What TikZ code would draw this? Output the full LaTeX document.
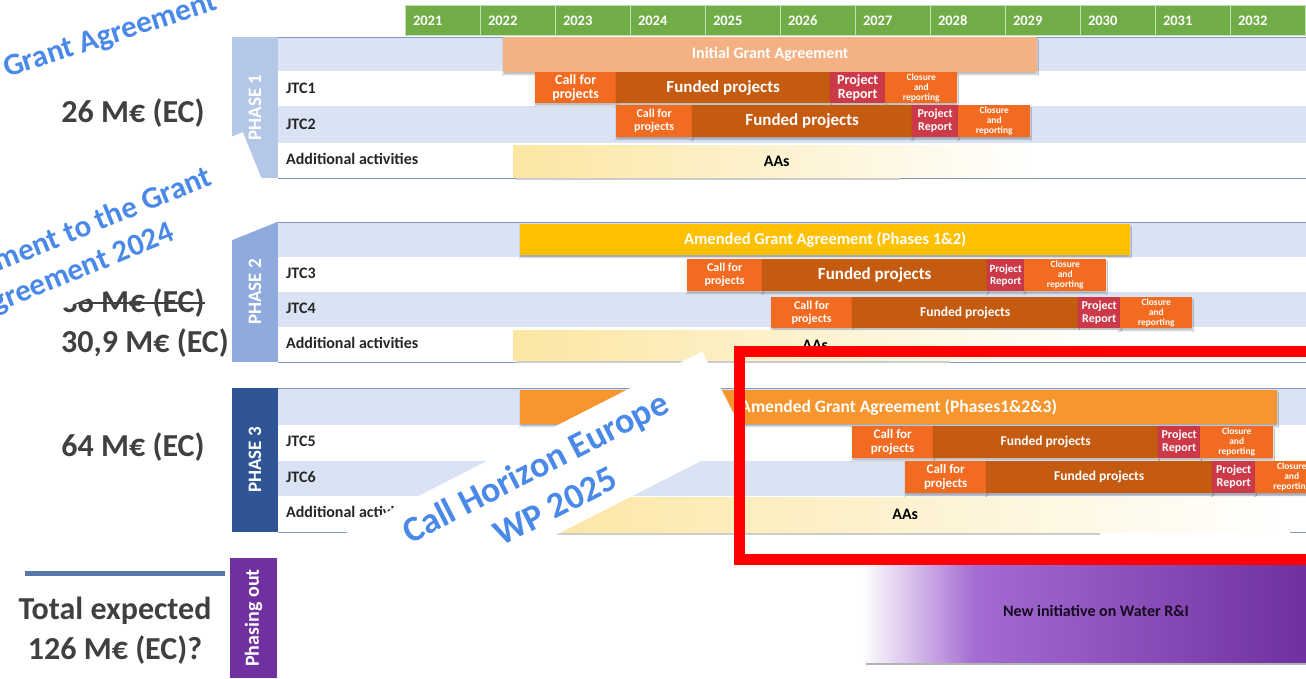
\documentclass[tikz,border=0pt]{standalone}
\usepackage{fontspec}
\setmainfont{Carlito}
\usepackage{xcolor}
\usepackage{tikz}
\usetikzlibrary{positioning,shadows.blur}
\definecolor{yeargreen}{HTML}{70AD47}
\definecolor{rowblue}{HTML}{DAE3F3}
\definecolor{ruleblue}{HTML}{8497C4}
\definecolor{tabone}{HTML}{B4C7E7}
\definecolor{tabtwo}{HTML}{8FAADC}
\definecolor{tabthree}{HTML}{2F5597}
\definecolor{tabout}{HTML}{7030A0}
\definecolor{salmon}{HTML}{F4B183}
\definecolor{callorange}{HTML}{F26B21}
\definecolor{fundbrown}{HTML}{C55A11}
\definecolor{reportred}{HTML}{CC3A4A}
\definecolor{goldbar}{HTML}{FFC000}
\definecolor{amendorange}{HTML}{F7962F}
\definecolor{aalight}{HTML}{FBE6A2}
\definecolor{aamid}{HTML}{EFE2C2}
\definecolor{purplemid}{HTML}{A46BD2}
\definecolor{purpledark}{HTML}{7030A0}
\definecolor{labelgray}{HTML}{404040}
\definecolor{calloutblue}{HTML}{4A89E8}
\newcommand{\sizedbold}[2]{\bfseries\fontsize{#1}{#2}\selectfont}

\begin{document}
\begin{tikzpicture}[
    x=1pt, y=-1pt,
    nosep/.style={inner sep=0},
    yearcell/.style={nosep, anchor=north west, fill=yeargreen, draw=yeargreen!40!white, line width=1pt,
        text width=60pt, inner xsep=7.5pt, minimum height=30pt, align=left, text=white, font=\sizedbold{14.5}{16}},
    tab/.style={nosep, rotate=90, minimum height=46pt, text=white, font=\sizedbold{19}{22}},
    rowlabel/.style={nosep, anchor=west, text=black!85, font=\sizedbold{16}{19}},
    plainbar/.style={nosep, anchor=north west, align=center},
    bar/.style={plainbar, text=white, font=\sizedbold{13}{14},
        blur shadow={shadow xshift=0pt, shadow yshift=-2.5pt, shadow blur radius=1.2pt, shadow blur steps=3, shadow opacity=25}},
    callbar/.style={bar, fill=callorange},
    fundbar/.style={bar, fill=fundbrown},
    reportbar/.style={bar, fill=reportred},
    closebar/.style={bar, fill=callorange, font=\sizedbold{9.5}{10}},
    aabar/.style={plainbar, text=black, left color=aalight, middle color=aamid, right color=white, font=\sizedbold{16}{18}},
    money/.style={nosep, text=labelgray, font=\sizedbold{32}{38}},
    callout/.style={nosep, fill=white, text=calloutblue, align=center}
]
\path[use as bounding box] (0,0) rectangle (1306,678);
\clip (0,0) rectangle (1306,678);
\path[fill=white] (0,0) rectangle (1306,678);

\foreach \yr [count=\i from 0] in {2021,...,2032}
    \node[yearcell] (y\yr) at ({405+75*\i},5) {\yr};

% phase 1
\path[fill=rowblue] (278,37) rectangle (1306,71);
\path[fill=rowblue] (278,106) rectangle (1306,143);
\path[draw=ruleblue, semithick] (278,37) -- (1306,37);
\path[draw=ruleblue, thick] (278,178) -- (1306,178);
\node[tab, fill=tabone, minimum width=141pt] (phaseone) at (255,107.5) {PHASE 1};
\node[rowlabel] (jtcone) at (286,88) {JTC1};
\node[rowlabel] (jtctwo) at (286,124) {JTC2};
\node[rowlabel] (aaone) at (286,159) {Additional activities};

\node[bar, fill=salmon, minimum width=534pt, minimum height=35pt, font=\sizedbold{16}{18}] (initialga) at (503,37) {Initial Grant Agreement};
\node[callbar, minimum width=81pt, minimum height=31pt, font=\sizedbold{14}{14}] (jtconecall) at (535,72) {Call for\\projects};
\node[fundbar, minimum width=214pt, minimum height=31pt, font=\sizedbold{17}{18}] (jtconefund) at (616,72) {Funded projects};
\node[reportbar, minimum width=55pt, minimum height=31pt, font=\sizedbold{14}{14}] (jtconereport) at (830,72) {Project\\Report};
\node[closebar, minimum width=72pt, minimum height=31pt] (jtconeclose) at (885,72) {Closure\\and\\reporting};
\node[callbar, minimum width=76pt, minimum height=32pt, font=\sizedbold{12}{13}] (jtctwocall) at (616,105) {Call for\\projects};
\node[fundbar, minimum width=220pt, minimum height=32pt, font=\sizedbold{17}{18}] (jtctwofund) at (692,105) {Funded projects};
\node[reportbar, minimum width=46pt, minimum height=32pt, font=\sizedbold{12}{13}] (jtctworeport) at (912,105) {Project\\Report};
\node[closebar, minimum width=72pt, minimum height=32pt] (jtctwoclose) at (958,105) {Closure\\and\\reporting};
\path[fill=black!20] (516,177) rectangle (900,179.5);
\node[aabar, minimum width=527pt, minimum height=32pt] (aaonebar) at (513,145) {AAs};

% phase 2
\path[fill=rowblue] (278,222) rectangle (1306,257);
\path[fill=rowblue] (278,292) rectangle (1306,327);
\path[draw=ruleblue, semithick] (278,222) -- (1306,222);
\path[draw=ruleblue, thick] (278,362) -- (1306,362);
\node[tab, fill=tabtwo, minimum width=140pt] (phasetwo) at (255,292) {PHASE 2};
\node[rowlabel] (jtcthree) at (286,273) {JTC3};
\node[rowlabel] (jtcfour) at (286,308) {JTC4};
\node[rowlabel] (aatwo) at (286,343) {Additional activities};

\node[bar, fill=goldbar, minimum width=610pt, minimum height=31pt, font=\sizedbold{16.5}{18}] (amendga) at (520,224) {Amended Grant Agreement (Phases 1\&2)};
\node[callbar, minimum width=75pt, minimum height=32pt, font=\sizedbold{12}{13}] (jtcthreecall) at (687,259) {Call for\\projects};
\node[fundbar, minimum width=225pt, minimum height=32pt, font=\sizedbold{17}{18}] (jtcthreefund) at (762,259) {Funded projects};
\node[reportbar, minimum width=37pt, minimum height=32pt, font=\sizedbold{11}{12}] (jtcthreereport) at (987,259) {Project\\Report};
\node[closebar, minimum width=82pt, minimum height=32pt] (jtcthreeclose) at (1024,259) {Closure\\and\\reporting};
\node[callbar, minimum width=81pt, minimum height=31pt, font=\sizedbold{12}{13}] (jtcfourcall) at (771,297) {Call for\\projects};
\node[fundbar, minimum width=226pt, minimum height=31pt, font=\sizedbold{13.5}{15}] (jtcfourfund) at (852,297) {Funded projects};
\node[reportbar, minimum width=42pt, minimum height=31pt, font=\sizedbold{12}{13}] (jtcfourreport) at (1078,297) {Project\\Report};
\node[closebar, minimum width=72pt, minimum height=31pt] (jtcfourclose) at (1120,297) {Closure\\and\\reporting};
\path[fill=black!20] (516,360) rectangle (950,362.5);
\node[aabar, minimum width=604pt, minimum height=30pt] (aatwobar) at (513,330) {AAs};

% phase 3
\path[fill=rowblue] (278,388) rectangle (1306,425);
\path[fill=rowblue] (278,461) rectangle (1306,496);
\path[draw=ruleblue, semithick] (278,388) -- (1306,388);
\path[draw=ruleblue, thick] (278,532) -- (1306,532);
\node[tab, fill=tabthree, minimum width=144pt] (phasethree) at (255,460) {PHASE 3};
\node[rowlabel] (jtcfive) at (286,441) {JTC5};
\node[rowlabel] (jtcsix) at (286,477) {JTC6};
\node[rowlabel] (aathree) at (286,512) {Additional activities};

\node[bar, fill=amendorange, minimum width=757pt, minimum height=34pt, font=\sizedbold{17.5}{19}] (amendgathree) at (520,390) {Amended Grant Agreement (Phases1\&2\&3)};
\node[callbar, minimum width=81pt, minimum height=32pt, font=\sizedbold{13}{14}] (jtcfivecall) at (852,426) {Call for\\projects};
\node[fundbar, minimum width=225pt, minimum height=32pt, font=\sizedbold{13.5}{15}] (jtcfivefund) at (933,426) {Funded projects};
\node[reportbar, minimum width=42pt, minimum height=32pt, font=\sizedbold{12}{13}] (jtcfivereport) at (1158,426) {Project\\Report};
\node[closebar, minimum width=73pt, minimum height=32pt] (jtcfiveclose) at (1200,426) {Closure\\and\\reporting};
\node[callbar, minimum width=81pt, minimum height=32pt, font=\sizedbold{13}{14}] (jtcsixcall) at (905,461) {Call for\\projects};
\node[fundbar, minimum width=226pt, minimum height=32pt, font=\sizedbold{13.5}{15}] (jtcsixfund) at (986,461) {Funded projects};
\node[reportbar, minimum width=43pt, minimum height=32pt, font=\sizedbold{12}{13}] (jtcsixreport) at (1212,461) {Project\\Report};
\node[closebar, minimum width=73pt, minimum height=32pt] (jtcsixclose) at (1255,461) {Closure\\and\\reporting};
\path[fill=black!20] (523,532) rectangle (1100,534.5);
\node[aabar, minimum width=770pt, minimum height=35pt] (aathreebar) at (520,497) {AAs};

% phasing out
\node[tab, fill=tabout, minimum width=120pt, minimum height=47pt, font=\sizedbold{20}{22}] (phaseout) at (253.5,618) {Phasing out};
\path[fill=black!30] (866,662) rectangle (1306,665);
\shade[left color=white, right color=purplemid] (862,565) rectangle (975,662);
\shade[left color=purplemid, right color=purpledark] (975,565) rectangle (1306,662);
\node[nosep, text=black!80!purpledark, font=\sizedbold{16}{18}] (newinit) at (1096,611) {New initiative on Water R\&I};

% budgets
\node[money] (budgetone) at (133,113) {26 M€ (EC)};
\node[money] (budgetold) at (133,303) {36 M€ (EC)};
\path[draw=labelgray, line width=2.5pt] (budgetold.west) -- (budgetold.east);
\node[money] (budgettwo) at (145,343) {30,9 M€ (EC)};
\node[money] (budgetthree) at (133,447) {64 M€ (EC)};
\path[draw=tabthree!80!white, line width=5pt] (25,573) -- (225,573);
\node[money, align=center, font=\sizedbold{32}{40}] (budgettotal) at (115,631) {Total expected\\126 M€ (EC)?};

% notes
\node[nosep, anchor=base west, rotate=18, text=calloutblue, font=\sizedbold{31}{37}] (gafirst) at (7,78) {Grant Agreement};
\node[callout, rotate=22, minimum width=418pt, minimum height=96pt, font=\sizedbold{31}{37}] (amendnote) at (67,255) {Amendment to the Grant\\Agreement 2024};
\node[callout, rotate=27, minimum width=402pt, minimum height=97pt, font=\sizedbold{36}{44}] (horizonnote) at (545,486) {Call Horizon Europe\\WP 2025};

\path[draw=red, line width=11pt] (739,351) rectangle (1330,559);

\end{tikzpicture}
\end{document}
